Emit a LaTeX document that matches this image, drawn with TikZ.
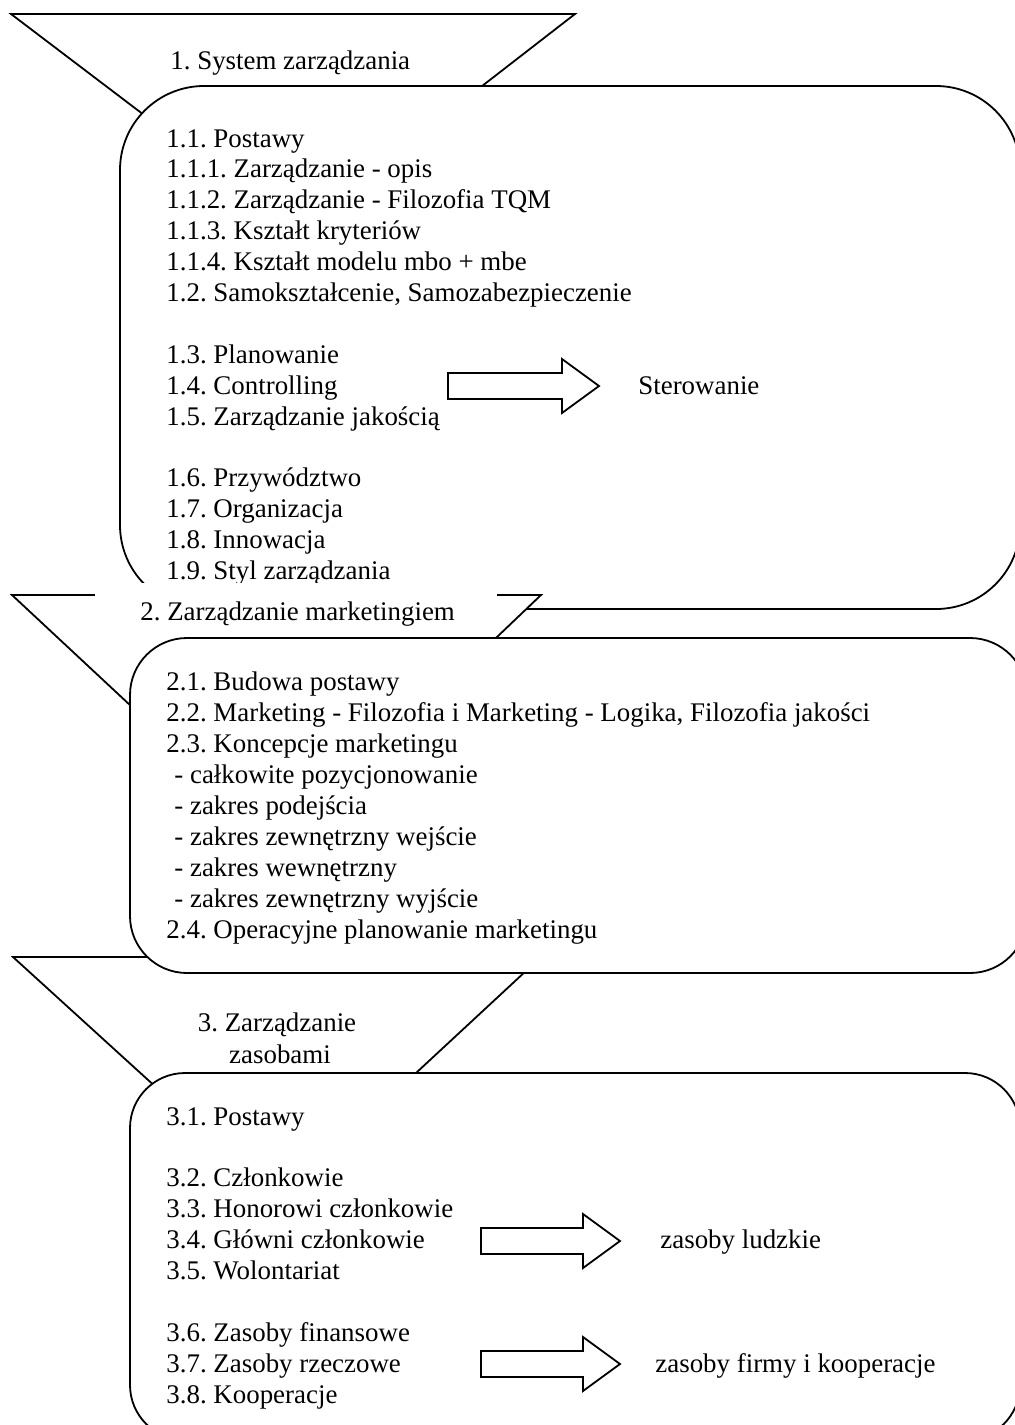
\documentclass[tikz,border=0pt]{standalone}
\usepackage{fontspec}
\setmainfont{Liberation Serif}
\frenchspacing
\begin{document}
\begin{tikzpicture}[x=0.5pt,y=-0.5pt,
  outline/.style={draw=black, line width=0.9pt, fill=white},
  item/.style={anchor=base west, inner sep=0pt, font=\fontsize{13.45}{15}\selectfont},
  centred/.style={anchor=base, inner sep=0pt, font=\fontsize{13.45}{15}\selectfont}]
\useasboundingbox (0,0) rectangle (1014,1425);

% block arrow: shaft start, head start, tip, centre line
\newcommand\fatarrow[4]{%
  \draw[outline] (#1,#4-13) -- (#2,#4-13) -- (#2,#4-27) -- (#3,#4)
    -- (#2,#4+27) -- (#2,#4+13) -- (#1,#4+13) -- cycle;}

% ---------- section 1 ----------
\draw[outline] (11,14) -- (575,14) -- (335,200) -- (256,200) -- cycle;
\node[item] (h1) at (170,69) {1. System zarządzania};
\draw[outline, rounded corners=42pt] (120,86) rectangle (1020,609);

\node[item] (a1)  at (166,147)   {1.1. Postawy};
\node[item] (a2)  at (166,177.9) {1.1.1. Zarządzanie - opis};
\node[item] (a3)  at (166,208.8) {1.1.2. Zarządzanie - Filozofia TQM};
\node[item] (a4)  at (166,239.7) {1.1.3. Kształt kryteriów};
\node[item] (a5)  at (166,270.6) {1.1.4. Kształt modelu mbo + mbe};
\node[item] (a6)  at (166,301.5) {1.2. Samokształcenie, Samozabezpieczenie};
\node[item] (a7)  at (166,363.3) {1.3. Planowanie};
\node[item] (a8)  at (166,394.2) {1.4. Controlling};
\node[item] (a9)  at (166,425.1) {1.5. Zarządzanie jakością};
\node[item] (a10) at (166,486.9) {1.6. Przywództwo};
\node[item] (a11) at (166,517.8) {1.7. Organizacja};
\node[item] (a12) at (166,548.7) {1.8. Innowacja};
\node[item] (a13) at (166,579.6) {1.9. Styl zarządzania};

\fatarrow{448}{562}{599}{386}
\node[item] (r1) at (638,394) {Sterowanie};

% ---------- section 2 ----------
\draw[outline] (12,595) -- (541,595) -- (410,720) -- (146,720) -- cycle;
\fill[white] (95,583) rectangle (497,631);
\node[item] (h2) at (140,620) {2. Zarządzanie marketingiem};

% ---------- section 3 funnel (behind panel 2) ----------
\draw[outline] (13,957) -- (541,957) -- (333,1150) -- (225,1150) -- cycle;

% ---------- panel 2 ----------
\draw[outline, rounded corners=28.5pt] (130,638) rectangle (1027,973);
\node[item] (b1) at (166,690) {2.1. Budowa postawy};
\node[item] (b2) at (166,721) {2.2. Marketing - Filozofia i Marketing - Logika, Filozofia jakości};
\node[item] (b3) at (166,752) {2.3. Koncepcje marketingu};
\node[item] (b4) at (174,783) {- całkowite pozycjonowanie};
\node[item] (b5) at (174,814) {- zakres podejścia};
\node[item] (b6) at (174,845) {- zakres zewnętrzny wejście};
\node[item] (b7) at (174,876) {- zakres wewnętrzny};
\node[item] (b8) at (174,907) {- zakres zewnętrzny wyjście};
\node[item] (b9) at (166,938) {2.4. Operacyjne planowanie marketingu};

% ---------- section 3 ----------
\node[centred] (h3a) at (277,1031) {3. Zarządzanie};
\node[centred] (h3b) at (280,1063) {zasobami};
\draw[outline, rounded corners=27.5pt] (130,1073) rectangle (1020,1440);

\node[item] (c1) at (166,1125)   {3.1. Postawy};
\node[item] (c2) at (166,1186.8) {3.2. Członkowie};
\node[item] (c3) at (166,1217.7) {3.3. Honorowi członkowie};
\node[item] (c4) at (166,1248.6) {3.4. Główni członkowie};
\node[item] (c5) at (166,1279.5) {3.5. Wolontariat};
\node[item] (c6) at (166,1341.3) {3.6. Zasoby finansowe};
\node[item] (c7) at (166,1372.2) {3.7. Zasoby rzeczowe};
\node[item] (c8) at (166,1403.1) {3.8. Kooperacje};

\fatarrow{481}{583}{620}{1241}
\node[item] (r2) at (660,1248.6) {zasoby ludzkie};
\fatarrow{481}{583}{620}{1364}
\node[item] (r3) at (655,1372.2) {zasoby firmy i kooperacje};
\end{tikzpicture}
\end{document}
